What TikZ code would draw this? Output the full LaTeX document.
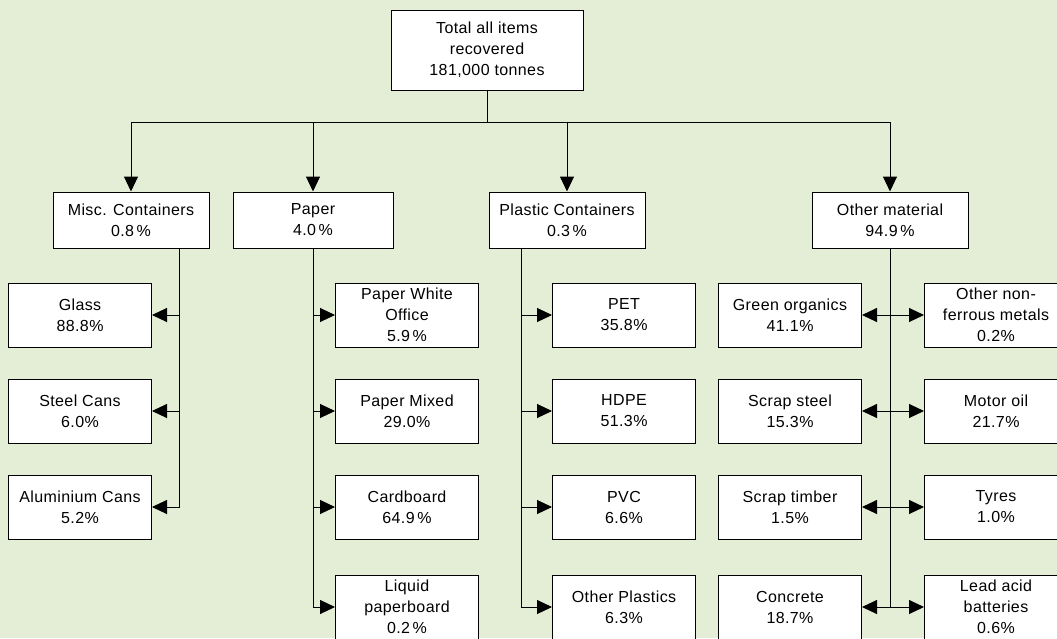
\documentclass[tikz,border=0pt]{standalone}
\usepackage{fontspec}
\setmainfont[LetterSpace=2.5]{Liberation Sans}
\usetikzlibrary{arrows.meta}
\definecolor{paleleaf}{HTML}{E4EED6}

\begin{document}
\begin{tikzpicture}[x=1pt,y=-1pt,line width=1pt,
    every node/.style={draw,fill=white,align=center,inner sep=0pt,font=\fontsize{16}{21}\selectfont},
    head/.style={minimum width=156pt,minimum height=56pt},
    item/.style={minimum width=143pt,minimum height=64pt},
    arr/.style={-{Triangle[length=15pt,width=14pt]}},
    both/.style={{Triangle[length=15pt,width=14pt]}-{Triangle[length=15pt,width=14pt]}}]
    %
    \fill[paleleaf] (0,0) rectangle (1057,638);
    \path[use as bounding box] (0,0) rectangle (1057,638);
    \clip (0,0) rectangle (1057,638);
    %
    \node[minimum width=192pt,minimum height=80pt] (total) at (487,50) {Total all items\\recovered\\181,000 tonnes};

    \node[head] (misc) at (131,220) {Misc. Containers\\0.8\,\%};
    \node[head,minimum width=160pt] (paper) at (313,220) {Paper\\4.0\,\%};
    \node[head] (plastic) at (567,220) {Plastic Containers\\0.3\,\%};
    \node[head] (other) at (890,220) {Other material\\94.9\,\%};

    \node[item] (glass) at (80,315) {Glass\\88.8\%};
    \node[item] (steel) at (80,411) {Steel Cans\\6.0\%};
    \node[item] (alu) at (80,507) {Aluminium Cans\\5.2\%};

    \node[item] (white) at (407,315) {Paper White\\Office\\5.9\,\%};
    \node[item] (mixed) at (407,411) {Paper Mixed\\29.0\%};
    \node[item] (cardboard) at (407,507) {Cardboard\\64.9\,\%};
    \node[item] (liquid) at (407,607) {Liquid\\paperboard\\0.2\,\%};

    \node[item] (pet) at (624,315) {PET\\35.8\%};
    \node[item] (hdpe) at (624,411) {HDPE\\51.3\%};
    \node[item] (pvc) at (624,507) {PVC\\6.6\%};
    \node[item] (otherplastic) at (624,607) {Other Plastics\\6.3\%};

    \node[item] (green) at (790,315) {Green organics\\41.1\%};
    \node[item] (scrapsteel) at (790,411) {Scrap steel\\15.3\%};
    \node[item] (timber) at (790,507) {Scrap timber\\1.5\%};
    \node[item] (concrete) at (790,607) {Concrete\\18.7\%};

    \node[item] (nonferrous) at (996,315) {Other non-\\ferrous metals\\0.2\%};
    \node[item] (motoroil) at (996,411) {Motor oil\\21.7\%};
    \node[item] (tyres) at (996,507) {Tyres\\1.0\%};
    \node[item] (lead) at (996,607) {Lead acid\\batteries\\0.6\%};
    %
    \coordinate (bus) at (487,122);
    \coordinate (misctrunk) at (179,248);
    \coordinate (plastictrunk) at (521,248);
    %
    \draw (total) -- (bus);
    \draw (bus -| misc) -- (bus -| other);
    \foreach \n in {misc,paper,plastic,other}
        \draw[arr] (bus -| \n) -- (\n);

    \foreach \c in {glass,steel,alu}
        \draw[arr] (misctrunk) |- (\c.east);
    \foreach \c in {white,mixed,cardboard,liquid}
        \draw[arr] (paper.south) |- (\c.west);
    \foreach \c in {pet,hdpe,pvc,otherplastic}
        \draw[arr] (plastictrunk) |- (\c.west);

    \draw (other.south) -- (other.south |- concrete.east);
    \draw[both] (green) -- (nonferrous);
    \draw[both] (scrapsteel) -- (motoroil);
    \draw[both] (timber) -- (tyres);
    \draw[both] (concrete) -- (lead);
    %
\end{tikzpicture}
\end{document}
